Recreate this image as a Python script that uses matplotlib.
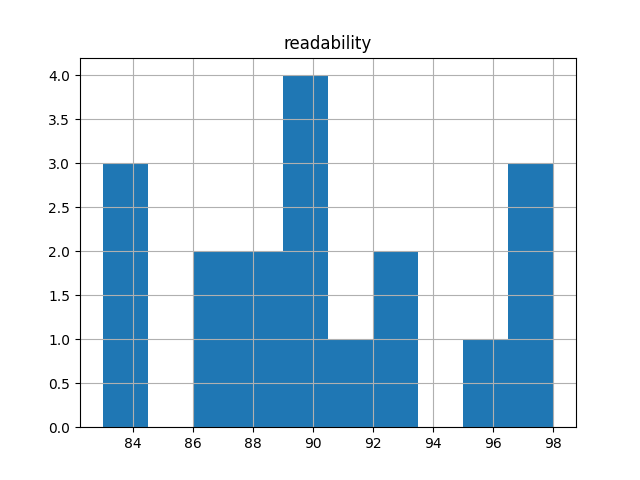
import pandas as pd
import matplotlib
matplotlib.use("Agg")
import matplotlib.pyplot as plt

# readability scores (10 bins, 83..98)
readability = [83, 84, 84,
               86, 87,
               88, 88,
               89, 89, 90, 90,
               91,
               92, 93,
               96,
               97, 97, 98]

df = pd.DataFrame({"readability": readability})

fig = plt.figure(figsize=(6.4, 4.8), dpi=100)
ax = fig.add_subplot(111)
df.hist(column="readability", ax=ax)
fig.savefig("out.png")
